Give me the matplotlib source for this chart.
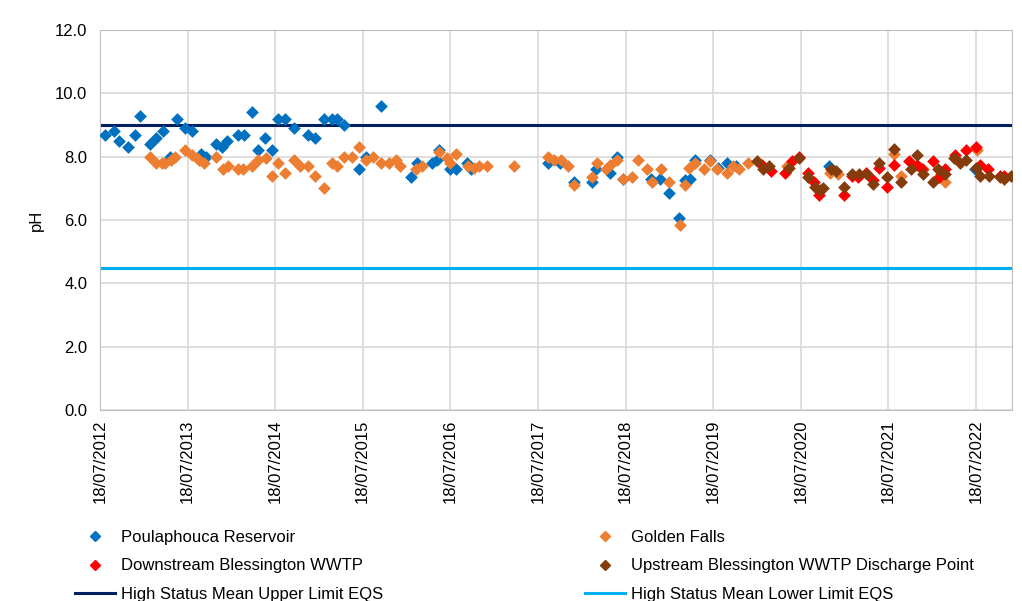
import matplotlib
matplotlib.use("Agg")
import matplotlib.pyplot as plt
import matplotlib.dates as mdates
from matplotlib.lines import Line2D
import pandas as pd

plt.rcParams['font.family'] = ['Liberation Sans', 'DejaVu Sans']

# Poulaphouca Reservoir
dates_pr = ["2012-08-08", "2012-09-15", "2012-10-05", "2012-11-12", "2012-12-12", "2013-01-02", "2013-02-12",
            "2013-03-08", "2013-04-05", "2013-05-05", "2013-06-02", "2013-07-06", "2013-08-05", "2013-09-12",
            "2013-10-03", "2013-11-15", "2013-12-10", "2013-12-30", "2014-02-15", "2014-03-10", "2014-04-12",
            "2014-05-06", "2014-06-05", "2014-07-05", "2014-07-30", "2014-08-27", "2014-10-05", "2014-12-03",
            "2015-01-02", "2015-02-08", "2015-03-12", "2015-04-02", "2015-04-30", "2015-07-02", "2015-07-30",
            "2015-10-02", "2016-02-05", "2016-03-01", "2016-05-02", "2016-05-22", "2016-05-30", "2016-07-15",
            "2016-08-12", "2016-09-27", "2016-10-12", "2017-08-30", "2017-10-18", "2017-12-15", "2018-03-01",
            "2018-03-16", "2018-05-16", "2018-06-12", "2018-07-06", "2018-11-03", "2018-12-10", "2019-01-16",
            "2019-02-27", "2019-03-22", "2019-04-12", "2019-05-04", "2019-07-05", "2019-08-08", "2019-09-14",
            "2019-10-20", "2020-11-14", "2022-07-15"]
ph_pr = [8.7, 8.8, 8.5, 8.3, 8.7, 9.3, 8.4, 8.6, 8.8, 8.0, 9.2, 8.9, 8.8, 8.1, 8.0, 8.4, 8.3, 8.5, 8.7, 8.7,
         9.4, 8.2, 8.6, 8.2, 9.2, 9.2, 8.9, 8.7, 8.6, 9.2, 9.2, 9.2, 9.0, 7.6, 8.0, 9.6, 7.35, 7.8, 7.8, 7.9,
         8.2, 7.6, 7.6, 7.8, 7.6, 7.8, 7.8, 7.2, 7.2, 7.6, 7.5, 8.0, 7.3, 7.3, 7.3, 6.85, 6.05, 7.25, 7.3, 7.9,
         7.9, 7.65, 7.8, 7.7, 7.7, 7.6]

# Golden Falls
dates_gf = ["2013-02-12", "2013-03-08", "2013-04-02", "2013-04-15", "2013-05-08", "2013-05-28", "2013-07-08",
            "2013-08-05", "2013-08-25", "2013-09-05", "2013-09-25", "2013-11-15", "2013-12-12", "2014-01-01",
            "2014-02-12", "2014-03-06", "2014-04-12", "2014-05-06", "2014-06-08", "2014-07-05", "2014-07-30",
            "2014-08-27", "2014-10-05", "2014-10-30", "2014-12-03", "2015-01-02", "2015-02-08", "2015-03-12",
            "2015-04-02", "2015-04-30", "2015-06-02", "2015-07-02", "2015-07-30", "2015-08-30", "2015-10-02",
            "2015-11-05", "2015-12-02", "2015-12-22", "2016-02-25", "2016-03-20", "2016-05-30", "2016-07-05",
            "2016-07-15", "2016-08-12", "2016-10-01", "2016-10-24", "2016-11-13", "2016-12-18", "2017-04-08",
            "2017-08-30", "2017-09-22", "2017-10-20", "2017-11-18", "2017-12-15", "2018-03-01", "2018-03-20",
            "2018-04-28", "2018-05-16", "2018-06-12", "2018-07-06", "2018-08-15", "2018-09-08", "2018-10-15",
            "2018-11-06", "2018-12-12", "2019-01-16", "2019-03-03", "2019-03-22", "2019-04-08", "2019-05-04",
            "2019-06-08", "2019-07-05", "2019-08-04", "2019-09-14", "2019-10-08", "2019-11-02", "2019-12-12",
            "2020-05-20", "2020-11-18", "2020-12-18", "2021-08-12", "2021-09-08", "2021-12-10", "2022-02-20",
            "2022-03-10", "2022-07-22"]
ph_gf = [8.0, 7.8, 7.8, 7.8, 7.9, 8.0, 8.2, 8.05, 7.95, 7.9,
         7.8, 8.0, 7.6, 7.7, 7.6, 7.6, 7.7, 7.9, 7.95, 7.4,
         7.8, 7.5, 7.9, 7.7, 7.7, 7.4, 7.0, 7.8, 7.7, 8.0,
         8.0, 8.3, 7.9, 8.0, 7.8, 7.8, 7.9, 7.7, 7.6, 7.7,
         8.15, 7.95, 7.8, 8.1, 7.7, 7.65, 7.7, 7.7, 7.7, 8.0,
         7.9, 7.9, 7.7, 7.1, 7.35, 7.8, 7.6, 7.75, 7.9, 7.3,
         7.35, 7.9, 7.6, 7.2, 7.6, 7.2, 5.85, 7.1, 7.65, 7.8,
         7.6, 7.85, 7.6, 7.5, 7.7, 7.6, 7.8, 7.7, 7.5, 7.45,
         8.1, 7.4, 7.6, 7.45, 7.2, 8.2]

# Downstream Blessington WWTP
dates_ds = ["2020-02-08", "2020-03-15", "2020-05-12", "2020-06-12", "2020-07-10", "2020-08-18", "2020-09-12",
            "2020-09-30", "2021-01-15", "2021-02-14", "2021-03-12", "2021-04-15", "2021-05-15", "2021-06-08",
            "2021-07-12", "2021-08-12", "2021-10-12", "2021-11-15", "2021-12-05", "2022-01-21", "2022-02-12",
            "2022-03-10", "2022-04-21", "2022-06-05", "2022-07-18", "2022-08-03", "2022-09-06", "2022-10-27",
            "2022-11-12"]
ph_ds = [7.75, 7.55, 7.5, 7.85, 8.0, 7.5, 7.2, 6.8, 6.8, 7.4,
         7.35, 7.5, 7.25, 7.65, 7.05, 7.75, 7.85, 7.75, 7.6, 7.85,
         7.35, 7.6, 8.05, 8.2, 8.3, 7.75, 7.6, 7.4, 7.4]

# Upstream Blessington WWTP Discharge Point
dates_us = ["2020-01-15", "2020-02-12", "2020-03-08", "2020-05-30", "2020-07-10", "2020-08-18", "2020-09-15",
            "2020-10-06", "2020-10-18", "2020-11-20", "2020-12-12", "2021-01-15", "2021-02-14", "2021-03-18",
            "2021-04-20", "2021-05-15", "2021-06-08", "2021-07-12", "2021-08-12", "2021-09-08", "2021-10-18",
            "2021-11-12", "2021-12-10", "2022-01-21", "2022-02-08", "2022-03-10", "2022-04-18", "2022-05-12",
            "2022-06-05", "2022-07-18", "2022-08-03", "2022-09-12", "2022-10-24", "2022-11-12", "2022-12-12"]
ph_us = [7.85, 7.6, 7.7, 7.65, 7.95, 7.35, 7.05, 6.95, 7.0, 7.6,
         7.55, 7.05, 7.45, 7.45, 7.45, 7.15, 7.8, 7.35, 8.25, 7.2,
         7.6, 8.05, 7.45, 7.2, 7.6, 7.45, 7.95, 7.8, 7.9, 7.65,
         7.4, 7.4, 7.35, 7.3, 7.4]

upper_eqs = 9.0
lower_eqs = 4.5
x_start = "2012-07-18"
x_end = "2022-12-15"

series = [
    ("Poulaphouca Reservoir", dates_pr, ph_pr, "#0070C0"),
    ("Golden Falls", dates_gf, ph_gf, "#ED7D31"),
    ("Downstream Blessington WWTP", dates_ds, ph_ds, "#FF0000"),
    ("Upstream Blessington WWTP Discharge Point", dates_us, ph_us, "#843C0C"),
]

fig = plt.figure(figsize=(10.22, 6.01), dpi=100)
ax = fig.add_axes([100 / 1022, 1 - 410 / 601, 912 / 1022, 380 / 601])

handles = {}
for name, d, v, c in series:
    ax.scatter(pd.to_datetime(d), v, marker="D", s=42, color=c, linewidths=0, zorder=3)
    handles[name] = Line2D([], [], marker="D", linestyle="none", color=c, markersize=5.5)

x0, x1 = pd.Timestamp(x_start), pd.Timestamp(x_end)
ax.plot([x0, x1], [upper_eqs, upper_eqs], color="#002060", lw=2.2, zorder=2)
ax.plot([x0, x1], [lower_eqs, lower_eqs], color="#00B0F0", lw=2.2, zorder=2)
handles["High Status Mean Upper Limit EQS"] = Line2D([], [], color="#002060", lw=2.2)
handles["High Status Mean Lower Limit EQS"] = Line2D([], [], color="#00B0F0", lw=2.2)

ax.set_xlim(x0, x1)
ax.set_ylim(0, 12)
ax.set_yticks([0, 2, 4, 6, 8, 10, 12])
ax.yaxis.set_major_formatter(plt.FuncFormatter(lambda v, p: f"{v:.1f}"))
ticks = pd.to_datetime([f"{y}-07-18" for y in range(2012, 2023)])
ax.set_xticks(ticks)
ax.xaxis.set_major_formatter(mdates.DateFormatter("%d/%m/%Y"))
plt.setp(ax.get_xticklabels(), rotation=90)
ax.tick_params(length=0, labelsize=12, colors="black")
ax.tick_params(axis="x", pad=7)
ax.tick_params(axis="y", pad=9)

ax.grid(True, color="#D9D9D9", lw=1.2)
ax.set_axisbelow(True)
for s in ax.spines.values():
    s.set_color("#BFBFBF")
ax.set_ylabel("pH", fontsize=12)
ax.yaxis.set_label_coords(-0.062, 0.5)

order = ["Poulaphouca Reservoir", "Downstream Blessington WWTP", "High Status Mean Upper Limit EQS",
         "Golden Falls", "Upstream Blessington WWTP Discharge Point", "High Status Mean Lower Limit EQS"]
fig.legend([handles[k] for k in order], order, ncol=2, loc="upper left",
           bbox_to_anchor=(75 / 1022, 1 - 530 / 601), frameon=False, fontsize=12,
           borderpad=0, borderaxespad=0, handlelength=2.4, handletextpad=0.36,
           columnspacing=12.1, labelspacing=0.8)

fig.savefig("out.png", dpi=100)
